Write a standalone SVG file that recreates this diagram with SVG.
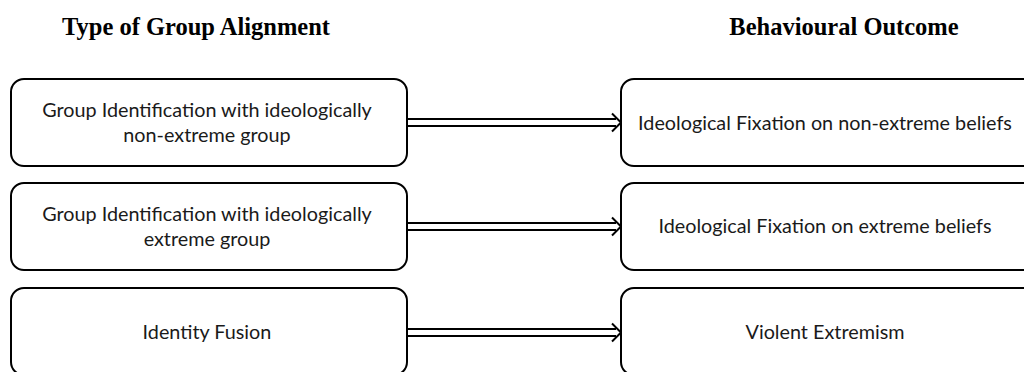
<svg xmlns="http://www.w3.org/2000/svg" width="1024" height="372" viewBox="0 0 1024 372">
<style>
.box{fill:#fff;stroke:#000;stroke-width:2}
.t{font-family:Lato,"Open Sans",sans-serif;font-size:19.8px;fill:#1a1a1a;text-anchor:middle}
.h{font-family:"Liberation Serif",serif;font-weight:bold;font-size:24.5px;fill:#000;text-anchor:middle}
.ln{stroke:#000;stroke-width:2;fill:none}
</style>
<rect width="1024" height="372" fill="#fff"/>
<text class="h" x="196" y="35">Type of Group Alignment</text>
<text class="h" x="844" y="35">Behavioural Outcome</text>
<g id="connectors">
<g id="c1" transform="translate(0,122.5)">
<path class="ln" d="M407,-3.5H616M407,3.5H616M612,-9L621,0L612,9"/>
</g>
<g id="c2" transform="translate(0,226.5)">
<path class="ln" d="M407,-3.5H616M407,3.5H616M612,-9L621,0L612,9"/>
</g>
<g id="c3" transform="translate(0,332.5)">
<path class="ln" d="M407,-3.5H616M407,3.5H616M612,-9L621,0L612,9"/>
</g>
</g>
<g id="n1"><rect class="box" x="11" y="79" width="396" height="87" rx="13"/>
<text class="t" x="207" y="117">Group Identification with ideologically</text>
<text class="t" x="207" y="142">non-extreme group</text></g>
<g id="n2"><rect class="box" x="11" y="183" width="396" height="87" rx="13"/>
<text class="t" x="207" y="221">Group Identification with ideologically</text>
<text class="t" x="207" y="246">extreme group</text></g>
<g id="n3"><rect class="box" x="11" y="288" width="396" height="87" rx="13"/>
<text class="t" x="207" y="339">Identity Fusion</text></g>
<g id="n4"><rect class="box" x="621" y="79" width="420" height="87" rx="13"/>
<text class="t" x="825" y="130">Ideological Fixation on non-extreme beliefs</text></g>
<g id="n5"><rect class="box" x="621" y="183" width="420" height="87" rx="13"/>
<text class="t" x="825" y="233">Ideological Fixation on extreme beliefs</text></g>
<g id="n6"><rect class="box" x="621" y="288" width="420" height="87" rx="13"/>
<text class="t" x="825" y="339">Violent Extremism</text></g>
</svg>
